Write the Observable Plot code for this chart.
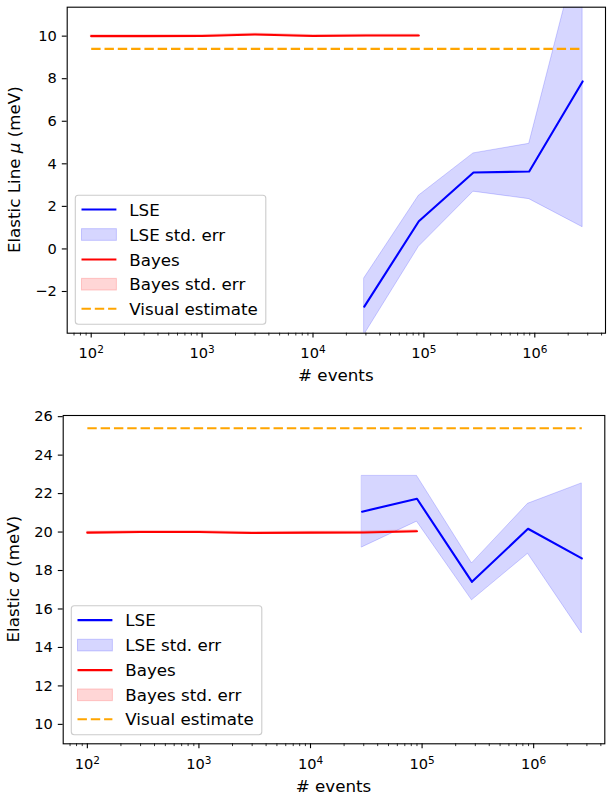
<!DOCTYPE html>
<html>
<head>
<meta charset="utf-8">
<script src="https://cdn.jsdelivr.net/npm/d3@7"></script>
<script src="https://cdn.jsdelivr.net/npm/@observablehq/plot@0.6"></script>
<style>
  html, body { margin: 0; padding: 0; background: #fff; }
  #chart svg { display: block; }
</style>
</head>
<body>
<div id="chart"></div>
<script>
// ---------- data ----------
const lseX        = [2.9e4, 9.0e4, 2.8e5, 8.9e5, 2.7e6];
const lseMu       = [-2.71, 1.30, 3.59, 3.64, 7.87];
const lseMuErr    = [1.33, 1.20, 0.90, 1.30, 6.85];
const lseSigma    = [21.06, 21.73, 17.41, 20.17, 18.63];
const lseSigmaErr = [1.86, 1.19, 0.96, 1.30, 3.90];

const bayesX        = [100, 300, 1000, 3000, 10000, 30000, 90000];
const bayesMu       = [10.00, 10.00, 10.01, 10.08, 10.01, 10.03, 10.03];
const bayesMuErr    = [0.04, 0.04, 0.04, 0.04, 0.04, 0.04, 0.04];
const bayesSigma    = [19.97, 20.00, 20.00, 19.95, 19.97, 19.98, 20.04];
const bayesSigmaErr = [0.05, 0.05, 0.05, 0.05, 0.05, 0.05, 0.05];

const visualX     = [100, 2.7e6];
const visualMu    = [9.4, 9.4];
const visualSigma = [25.4, 25.4];

const xMajorTicks = [1e2, 1e3, 1e4, 1e5, 1e6];
const muTicks     = [-2, 0, 2, 4, 6, 8, 10];
const sigmaTicks  = [10, 12, 14, 16, 18, 20, 22, 24, 26];
const legendLabels = ["LSE", "LSE std. err", "Bayes", "Bayes std. err", "Visual estimate"];

// ---------- helpers ----------
const xMinorTicks = [];
for (let k = 1; k <= 6; k++) for (let m = 2; m <= 9; m++) xMinorTicks.push(m * 10 ** k);
const fmtPow = d => "10^" + Math.round(Math.log10(d));

function rows(xs, ys, errs) {
  return xs.map((x, i) => ({x, y: ys[i], lo: ys[i] - errs[i], hi: ys[i] + errs[i]}));
}
const FONT = "DejaVu Sans, Liberation Sans, sans-serif";
const LABEL_SIZE = 16.7;
const TICK_SIZE = 14.6;
const DASH = "9.4,3.9";

function panel(o) {
  const lse = rows(lseX, o.lse, o.lseErr);
  const bay = rows(bayesX, o.bayes, o.bayesErr);
  const vis = visualX.map((x, i) => ({x, y: o.visual[i]}));
  const svg = Plot.plot({
    width: 612, height: o.height,
    marginLeft: o.ml, marginRight: o.mr, marginTop: o.mt, marginBottom: o.mb,
    style: {fontFamily: FONT, fontSize: TICK_SIZE + "px", color: "black", background: "white", overflow: "visible"},
    x: {type: "log", domain: [10 ** 1.7836, 10 ** 6.6375]},
    y: {domain: o.yDomain},
    marks: [
      Plot.areaY(lse, {x: "x", y1: "lo", y2: "hi", fill: "blue", fillOpacity: 0.16, stroke: "blue", strokeOpacity: 0.18, strokeWidth: 1, clip: true}),
      Plot.areaY(bay, {x: "x", y1: "lo", y2: "hi", fill: "red", fillOpacity: 0.16, stroke: "red", strokeOpacity: 0.18, strokeWidth: 1, clip: true}),
      Plot.line(lse, {x: "x", y: "y", stroke: "blue", strokeWidth: 2.1, clip: true}),
      Plot.line(bay, {x: "x", y: "y", stroke: "red", strokeWidth: 2.1, clip: true}),
      Plot.line(vis, {x: "x", y: "y", stroke: "orange", strokeWidth: 2.1, strokeDasharray: DASH, strokeLinecap: "butt", clip: true}),
      Plot.axisX(xMinorTicks.filter(d => d > 10 ** 1.7836 && d < 10 ** 6.6375), {tickSize: 2.8, strokeWidth: 0.8, tickFormat: () => "", label: null}),
      Plot.axisX(xMajorTicks, {tickSize: 4.9, tickPadding: 9.5, strokeWidth: 1.1, tickFormat: fmtPow, label: null, fontSize: TICK_SIZE}),
      Plot.axisY(o.yTicks, {tickSize: 4.9, tickPadding: 5.5, strokeWidth: 1.1, label: null, fontSize: TICK_SIZE}),
      Plot.frame({stroke: "black", strokeWidth: 1.1})
    ]
  });
  const s = d3.select(svg);
  // turn "10^k" tick labels into 10 with a raised exponent
  s.selectAll("text").each(function () {
    const t = this.textContent;
    const m = /^10\^(\d+)$/.exec(t);
    if (!m) return;
    const el = d3.select(this);
    el.text("");
    el.append("tspan").text("10");
    el.append("tspan").attr("dy", "-0.45em").attr("font-size", "10.5px").text(m[1]);
  });
  const left = o.ml, right = 612 - o.mr, top = o.mt, bottom = o.height - o.mb;
  // x label
  s.append("text").attr("x", (left + right) / 2).attr("y", bottom + 42.5)
    .attr("text-anchor", "middle").attr("dominant-baseline", "central")
    .attr("font-family", FONT).attr("font-size", LABEL_SIZE).attr("fill", "black").text("# events");
  // y label
  const yl = s.append("text")
    .attr("transform", `translate(${o.ylx},${(top + bottom) / 2}) rotate(-90)`)
    .attr("text-anchor", "middle").attr("dominant-baseline", "central")
    .attr("font-family", FONT).attr("font-size", LABEL_SIZE).attr("fill", "black");
  yl.append("tspan").text(o.yLabel[0]);
  yl.append("tspan").attr("font-style", "italic").text(o.yLabel[1]);
  yl.append("tspan").text(o.yLabel[2]);
  // legend (lower left)
  const bw = 190.5, bh = 129;
  const bx = left + 8.6, by = bottom - 8.5 - bh;
  const g = s.append("g");
  g.append("rect").attr("x", bx).attr("y", by).attr("width", bw).attr("height", bh)
    .attr("rx", 3).attr("fill", "white").attr("fill-opacity", 0.8).attr("stroke", "#cccccc").attr("stroke-width", 1.1);
  const rowY = [14.3, 39.3, 64.3, 89, 113.5];
  const hx0 = bx + 6.2, hx1 = bx + 41.1;
  legendLabels.forEach((lab, i) => {
    const y = by + rowY[i];
    if (i === 1 || i === 3) {
      const c = i === 1 ? "blue" : "red";
      g.append("rect").attr("x", hx0).attr("y", y - 5.85).attr("width", hx1 - hx0).attr("height", 11.7)
        .attr("fill", c).attr("fill-opacity", 0.16).attr("stroke", c).attr("stroke-opacity", 0.18);
    } else {
      const c = i === 0 ? "blue" : i === 2 ? "red" : "orange";
      const ln = g.append("line").attr("x1", hx0).attr("x2", hx1).attr("y1", y).attr("y2", y)
        .attr("stroke", c).attr("stroke-width", 2.1);
      if (i === 4) ln.attr("stroke-dasharray", DASH);
    }
    g.append("text").attr("x", bx + 54).attr("y", y).attr("dominant-baseline", "central")
      .attr("text-anchor", "start")
      .attr("font-family", FONT).attr("font-size", LABEL_SIZE).attr("fill", "black").text(lab);
  });
  return svg;
}

const chart = document.getElementById("chart");
chart.append(panel({
  height: 390, mt: 6.7, mb: 57.3, ml: 66.7, mr: 7,
  yDomain: [-3.96, 11.36], yTicks: muTicks,
  lse: lseMu, lseErr: lseMuErr, bayes: bayesMu, bayesErr: bayesMuErr, visual: visualMu,
  yLabel: ["Elastic Line ", "μ", " (meV)"], ylx: 14
}));
chart.append(panel({
  height: 408, mt: 25, mb: 54.7, ml: 62.7, mr: 7.7,
  yDomain: [8.99, 26.06], yTicks: sigmaTicks,
  lse: lseSigma, lseErr: lseSigmaErr, bayes: bayesSigma, bayesErr: bayesSigmaErr, visual: visualSigma,
  yLabel: ["Elastic ", "σ", " (meV)"], ylx: 13
}));
</script>
</body>
</html>
